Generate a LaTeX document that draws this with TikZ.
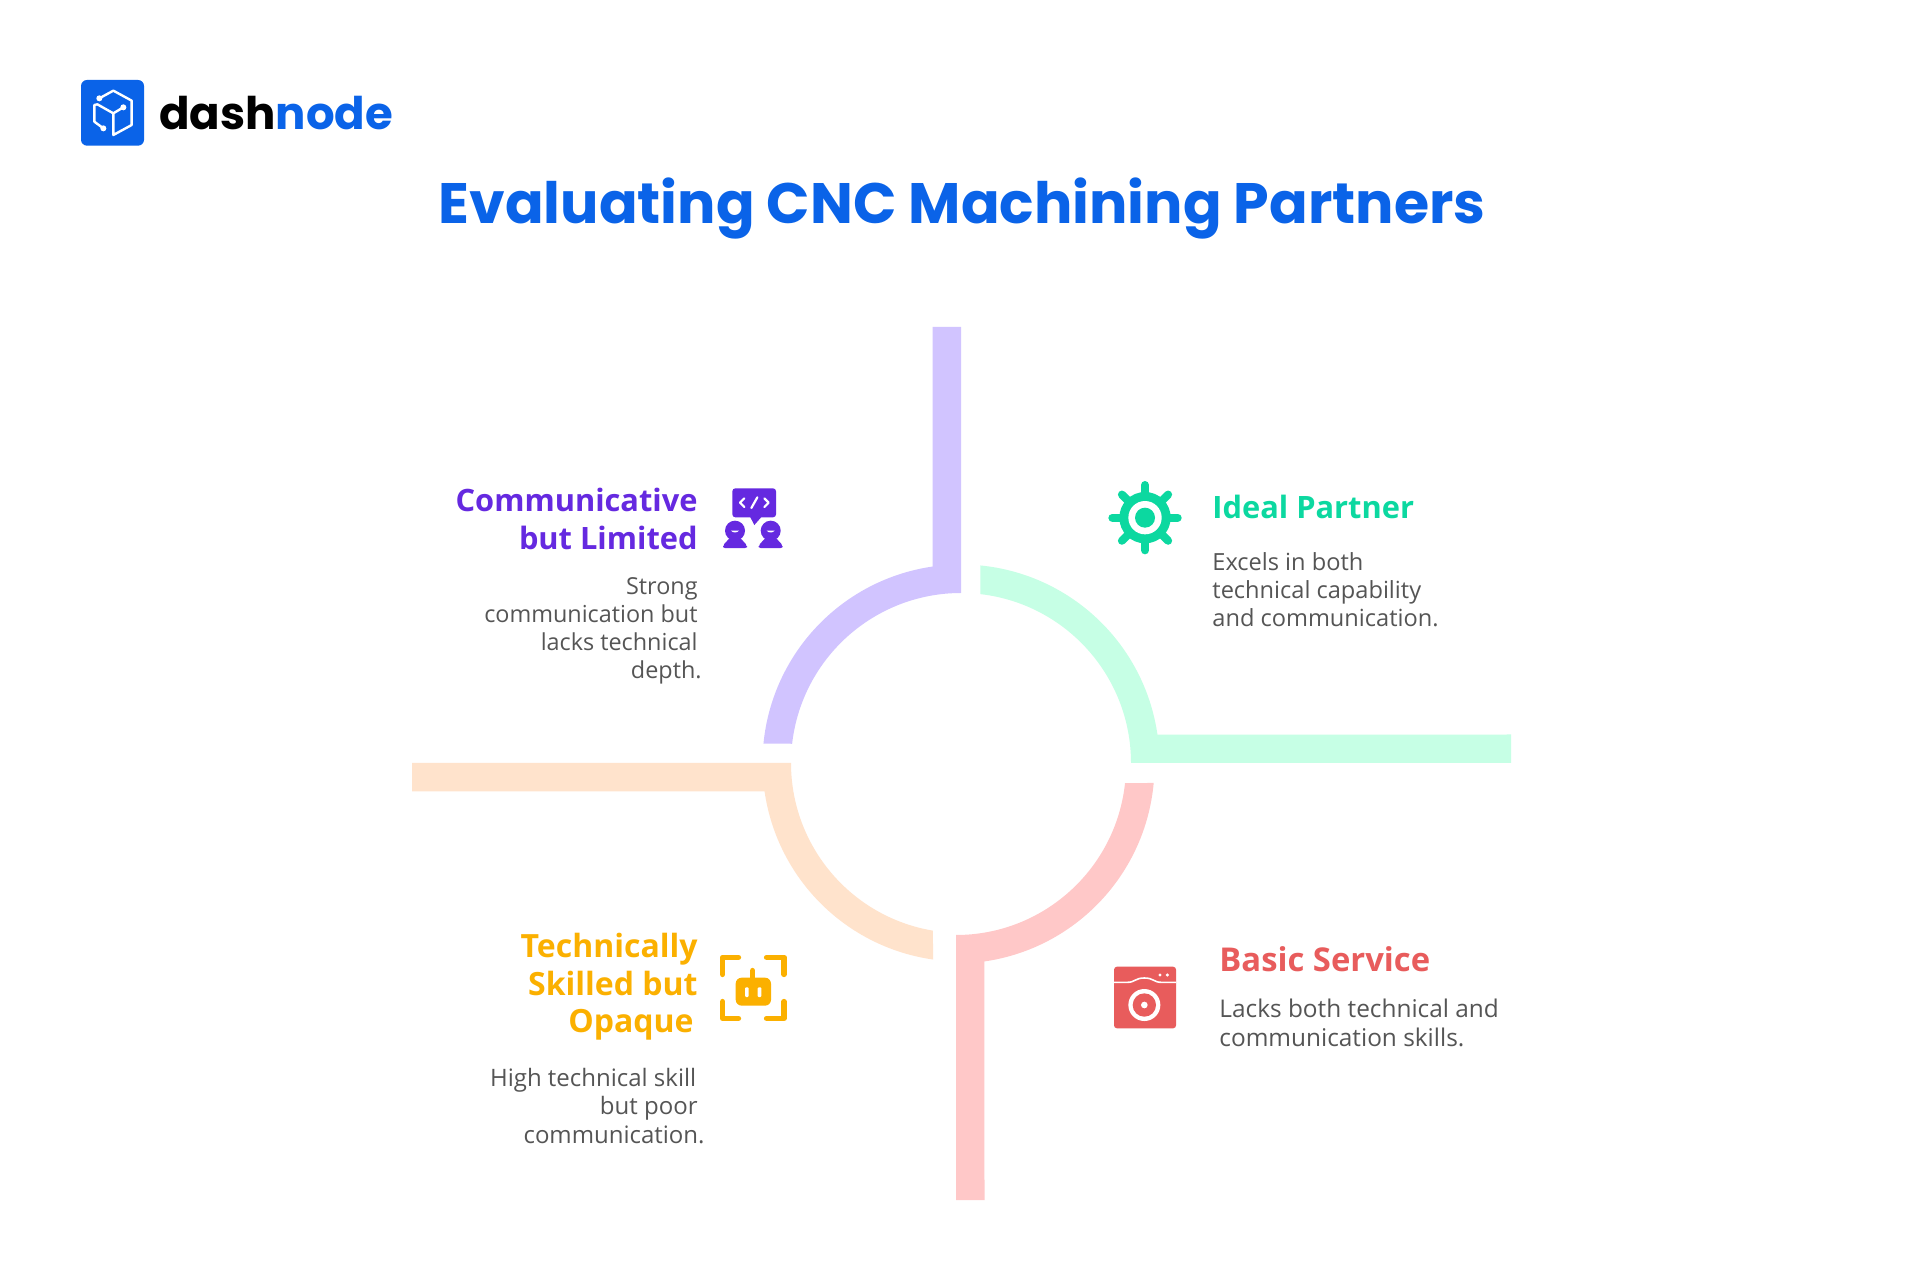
\documentclass[tikz,border=0pt]{standalone}
\usepackage{fontspec}
\setmainfont{Open Sans}
\newfontfamily\popfont{Poppins}
\definecolor{blu}{HTML}{0A63E8}
\definecolor{lav}{HTML}{D1C4FF}
\definecolor{mnt}{HTML}{C6FFE5}
\definecolor{pch}{HTML}{FFE3CC}
\definecolor{pnk}{HTML}{FFC8C8}
\definecolor{pur}{HTML}{6529E0}
\definecolor{grn}{HTML}{0CD8A0}
\definecolor{amb}{HTML}{FBB000}
\definecolor{red1}{HTML}{E85C5C}
\definecolor{gry}{HTML}{555555}
\begin{document}
\begin{tikzpicture}[line join = round, line cap = round, x=0.5pt, y=0.5pt]
	\def\ri{170}\def\ro{198.5}
	\tikzset{head/.style={inner sep=0pt,font=\fontsize{15.4}{18.7}\selectfont\bfseries},
		txt/.style={inner sep=0pt,text=gry,font=\fontsize{12}{14.1}\selectfont},
		ic/.style={x=0.1667pt,y=-0.1667pt}}
	\useasboundingbox (0,0) rectangle (1920,1280);
	\fill[white] (0,0) rectangle (1920,1280);
	
	\foreach \a/\l/\c/\cx/\cy/\ei/\eo in {0/436/lav/961/517/173.5/174.4,-90/550/mnt/961/517/173.5/174.4,90/549/pch/961/517/170.5/171.9,180/435/pnk/956/515/173.9/174.8}{
		\fill[\c,shift={(\cx,\cy)},rotate=\a,line join=miter] (0,\ri)--(0,\l)--(-28.5,\l)--(98.2:\ro)arc[start angle=98.2,end angle=\eo,radius=\ro]--(\ei:\ri)arc[start angle=\ei,end angle=90,radius=\ri]--cycle;	}
	
	\path(962,1056)node[anchor=base,text=blu,font=\popfont\fontsize{28.5}{34}\selectfont\bfseries](title){Evaluating CNC Machining Partners};
	\path(159,1150)node[anchor=base west,inner sep=0pt,font=\popfont\fontsize{22.5}{28}\selectfont\bfseries](logo){dash\textcolor{blu}{node}};
	
	\path(698,792)node[head,anchor=north east,align=right,text=pur](cl){Communicative\\but Limited}
	++(0,-89)node[txt,anchor=north east,align=right,font=\fontsize{11.7}{14.1}\selectfont](ct){Strong\\communication but\hspace*{-1pt}\\lacks technical\\depth.\hspace*{-2pt}};
	\path(1212,785)node[head,anchor=north west,text=grn](il){Ideal Partner}
	++(0,-57)node[txt,anchor=north west,align=left,font=\fontsize{11.8}{14}\selectfont](it){Excels in both\\technical capability\\and communication.};
	\path(698,347)node[head,anchor=north east,align=right,text=amb,font=\fontsize{16}{18.8}\selectfont\bfseries](tl){Technically\\Skilled but\hspace*{2pt}\\Opaque\hspace*{2pt}}
	++(0,-135)node[txt,anchor=north east,align=right](tt){High technical skill\hspace*{0.7pt}\\but poor\\communication.\hspace*{-3.5pt}};
	\path(1219,334)node[head,anchor=north west,text=red1,font=\fontsize{16.4}{19}\selectfont\bfseries](bl){Basic Service}
	++(0,-53)node[txt,anchor=north west,align=left,font=\fontsize{12.2}{14.1}\selectfont](bt){Lacks both technical and\\communication skills.};
	
	\begin{scope}[shift={(60,1220)},ic]
		\fill[blu,rounded corners=3pt] (63,60) rectangle (252,257);
		\draw[white,line width=1.2pt] (118,115)--(160,92)--(215,122)--(215,195)--(160,225)--(160,160)--(190,142);
		\draw[white,line width=1.2pt] (160,160)--(112,133)--(103,135)--(103,185)--(130,205);
		\foreach \p in {(118,115),(190,142),(130,205)}{\fill[white] \p circle[radius=9];}
	\end{scope}
	
	\begin{scope}[shift={(700,820)},ic]
		\fill[pur,rounded corners=1.5pt] (97,85) rectangle (228,172);
		\fill[pur] (150,170)--(163,195)--(185,170)--cycle;
		\draw[white,line width=1.1pt] (133,115)--(120,128)--(133,141) (193,115)--(206,128)--(193,141) (172,112)--(154,144);
		\foreach \x in {105,212}{
			\fill[pur] (\x,212) circle[radius=30];
			\fill[pur,rounded corners=1pt] (\x-36,264)--(\x-36,256)--(\x-14,232)--(\x+14,232)--(\x+36,256)--(\x+36,264)--cycle;
			\fill[white] (\x-12,212) to[bend right=50] (\x+12,212)--cycle;}
	\end{scope}
	
	\begin{scope}[shift={(1090,820)},ic]
		\foreach \t in {0,45,...,315}{\draw[grn,line width=4pt] (165,173)++(\t:70)--++(\t:28);}
		\fill[grn] (165,173) circle[radius=77];
		\fill[white] (165,173) circle[radius=50];
		\fill[grn] (165,173) circle[radius=30];
	\end{scope}
	
	\begin{scope}[shift={(700,340)},ic]
		\draw[amb,line width=2.8pt] (115,52)--(68,52)--(68,103) (200,52)--(252,52)--(252,103) (68,185)--(68,235)--(115,235) (252,185)--(252,235)--(200,235);
		\draw[amb,line width=2.8pt] (158,92)--(158,120);
		\fill[amb,rounded corners=3pt] (107,113) rectangle (213,197);
		\fill[white,rounded corners=0.5pt] (135,142) rectangle (146,171) (173,142) rectangle (184,171);
	\end{scope}
	
	\begin{scope}[shift={(1090,330)},ic]
		\fill[red1,rounded corners=1.5pt] (72,50) rectangle (258,235);
		\draw[white,line width=0.8pt,line cap=butt] (72,97)--(112,97)..controls (135,97) and (135,84)..(163,84)..controls (191,84) and (191,97)..(214,97)--(258,97);
		\fill[white] (210,75) circle[radius=5] (232,75) circle[radius=5];
		\fill[white] (163,165) circle[radius=48];
		\fill[red1] (163,165) circle[radius=35];
		\fill[white] (163,165) circle[radius=10];
	\end{scope}
\end{tikzpicture}
\end{document}
